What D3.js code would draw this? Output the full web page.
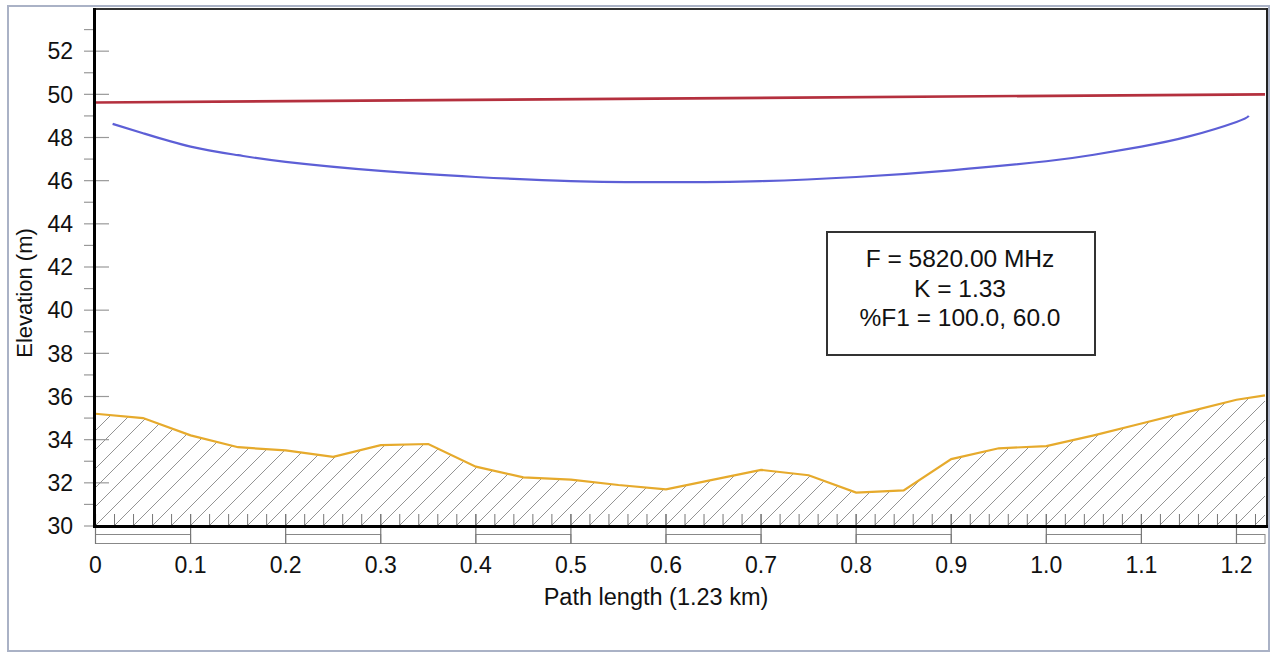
<!DOCTYPE html>
<html>
<head>
<meta charset="utf-8">
<script src="https://cdn.jsdelivr.net/npm/d3@7"></script>
<style>
  body { margin: 0; background: #fff; }
  svg { display: block; font-family: "Liberation Sans", Arial, sans-serif; }
  .tick-label { font-size: 23px; fill: #111; }
  .axis-title { font-size: 23.5px; fill: #111; }
  .info { font-size: 24.5px; fill: #111; }
</style>
</head>
<body>
<div id="chart"></div>
<script>
// path profile data (km, m)
var terrainX = [0, 0.05, 0.1, 0.15, 0.2, 0.25, 0.3, 0.35, 0.4, 0.45, 0.5, 0.55, 0.6, 0.65, 0.7, 0.75, 0.8, 0.85, 0.9, 0.95, 1.0, 1.05, 1.1, 1.15, 1.2, 1.23];
var terrainElev = [35.2, 35.0, 34.2, 33.65, 33.5, 33.2, 33.75, 33.8, 32.75, 32.25, 32.15, 31.9, 31.7, 32.15, 32.6, 32.35, 31.55, 31.65, 33.1, 33.6, 33.7, 34.2, 34.75, 35.3, 35.85, 36.05];

// line of sight
var losX = [0, 1.23];
var losElev = [49.62, 50.0];

// fresnel clearance curve
var fresX = [0.018, 0.05, 0.1, 0.15, 0.2, 0.3, 0.4, 0.5, 0.6, 0.7, 0.8, 0.9, 1.0, 1.05, 1.1, 1.15, 1.2, 1.213];
var fresElev = [48.63, 48.2, 47.58, 47.18, 46.87, 46.45, 46.17, 45.98, 45.93, 45.98, 46.17, 46.48, 46.9, 47.2, 47.58, 48.05, 48.72, 49.0];

var xTickValues = [0, 0.1, 0.2, 0.3, 0.4, 0.5, 0.6, 0.7, 0.8, 0.9, 1.0, 1.1, 1.2];
var xTickLabels = ["0", "0.1", "0.2", "0.3", "0.4", "0.5", "0.6", "0.7", "0.8", "0.9", "1.0", "1.1", "1.2"];
var yTickValues = [30, 32, 34, 36, 38, 40, 42, 44, 46, 48, 50, 52];
var yTickLabels = ["30", "32", "34", "36", "38", "40", "42", "44", "46", "48", "50", "52"];

var infoLines = ["F = 5820.00 MHz", "K = 1.33", "%F1 = 100.0, 60.0"];
var xTitle = "Path length (1.23 km)";
var yTitle = "Elevation (m)";

var svgWidth = 1272;
var svgHeight = 654;

var svg = d3.select("#chart")
  .append("svg")
  .attr("width", svgWidth)
  .attr("height", svgHeight);

var x = d3.scaleLinear().domain([0, 1.23]).range([95.5, 1265]);
var y = d3.scaleLinear().domain([30, 54]).range([526, 8]);

// outer frame
svg.append("rect")
  .attr("x", 8).attr("y", 6)
  .attr("width", 1261).attr("height", 645)
  .attr("fill", "none")
  .attr("stroke", "#aab2c6")
  .attr("stroke-width", 2);

// hatch pattern for ground
var defs = svg.append("defs");
var pat = defs.append("pattern")
  .attr("id", "hatch")
  .attr("patternUnits", "userSpaceOnUse")
  .attr("x", 95).attr("y", 526)
  .attr("width", 19).attr("height", 19);
pat.append("path")
  .attr("d", "M-2,2 L2,-2 M0,19 L19,0 M17,21 L21,17")
  .attr("stroke", "#888")
  .attr("stroke-width", 0.9);

var terrain = terrainX.map((d, i) => ({x: d, v: terrainElev[i]}));

var area = d3.area()
  .x(d => x(d.x))
  .y0(y(30))
  .y1(d => y(d.v));

svg.append("path")
  .datum(terrain)
  .attr("d", area)
  .attr("fill", "url(#hatch)");

// small up ticks along bottom every 0.02
var minorX = d3.range(0, 62).map(i => i * 0.02).filter(d => d < 1.23);
svg.append("g").selectAll("line")
  .data(minorX)
  .enter()
  .append("line")
  .attr("x1", d => x(d)).attr("x2", d => x(d))
  .attr("y1", 514).attr("y2", 526)
  .attr("stroke", "#777")
  .attr("stroke-width", 1);

// terrain line
svg.append("path")
  .datum(terrain)
  .attr("d", d3.line().x(d => x(d.x)).y(d => y(d.v)))
  .attr("fill", "none")
  .attr("stroke", "#e6aa2c")
  .attr("stroke-width", 2.2);

// line of sight
svg.append("path")
  .datum(losX.map((d, i) => ({x: d, v: losElev[i]})))
  .attr("d", d3.line().x(d => x(d.x)).y(d => y(d.v)))
  .attr("fill", "none")
  .attr("stroke", "#b4303e")
  .attr("stroke-width", 2.6);

// fresnel curve
svg.append("path")
  .datum(fresX.map((d, i) => ({x: d, v: fresElev[i]})))
  .attr("d", d3.line().curve(d3.curveNatural).x(d => x(d.x)).y(d => y(d.v)))
  .attr("fill", "none")
  .attr("stroke", "#5d5fd6")
  .attr("stroke-width", 2.2);

// y ticks
var yMinor = yTickValues.map(d => d + 1);
svg.append("g").selectAll("line")
  .data(yMinor)
  .enter()
  .append("line")
  .attr("x1", 84).attr("x2", 94)
  .attr("y1", d => y(d)).attr("y2", d => y(d))
  .attr("stroke", "#999")
  .attr("stroke-width", 1.2);

svg.append("g").selectAll("line")
  .data(yTickValues)
  .enter()
  .append("line")
  .attr("x1", 84).attr("x2", 109)
  .attr("y1", d => y(d)).attr("y2", d => y(d))
  .attr("stroke", "#999")
  .attr("stroke-width", 1.2);

svg.append("g").selectAll("text")
  .data(yTickValues)
  .enter()
  .append("text")
  .attr("class", "tick-label")
  .attr("x", 73)
  .attr("y", d => y(d))
  .attr("dy", "0.36em")
  .attr("text-anchor", "end")
  .text((d, i) => yTickLabels[i]);

// scale bar under x axis
var barStarts = xTickValues.filter((d, i) => i % 2 === 0);
svg.append("g").selectAll("rect")
  .data(barStarts)
  .enter()
  .append("rect")
  .attr("x", d => x(d))
  .attr("y", 534.5)
  .attr("width", d => x(Math.min(d + 0.1, 1.23)) - x(d))
  .attr("height", 9)
  .attr("fill", "none")
  .attr("stroke", "#888")
  .attr("stroke-width", 1);

svg.append("line")
  .attr("x1", x(0)).attr("x2", x(1.23))
  .attr("y1", 543.5).attr("y2", 543.5)
  .attr("stroke", "#888")
  .attr("stroke-width", 1);

svg.append("g").selectAll("line")
  .data(xTickValues)
  .enter()
  .append("line")
  .attr("x1", d => x(d)).attr("x2", d => x(d))
  .attr("y1", 514).attr("y2", 544)
  .attr("stroke", "#777")
  .attr("stroke-width", 1.2);

svg.append("g").selectAll("text")
  .data(xTickValues)
  .enter()
  .append("text")
  .attr("class", "tick-label")
  .attr("x", d => x(d))
  .attr("y", 573)
  .attr("text-anchor", "middle")
  .text((d, i) => xTickLabels[i]);

// plot frame
svg.append("line")
  .attr("x1", 95).attr("x2", 1267)
  .attr("y1", 9).attr("y2", 9)
  .attr("stroke", "#333").attr("stroke-width", 2);
svg.append("line")
  .attr("x1", 1267).attr("x2", 1267)
  .attr("y1", 8).attr("y2", 527)
  .attr("stroke", "#222").attr("stroke-width", 2);
svg.append("line")
  .attr("x1", 94.5).attr("x2", 94.5)
  .attr("y1", 8).attr("y2", 527.5)
  .attr("stroke", "#000").attr("stroke-width", 3);
svg.append("line")
  .attr("x1", 93).attr("x2", 1268)
  .attr("y1", 526.5).attr("y2", 526.5)
  .attr("stroke", "#000").attr("stroke-width", 3);

// axis titles
svg.append("text")
  .attr("class", "axis-title")
  .attr("x", 656)
  .attr("y", 605)
  .attr("text-anchor", "middle")
  .text(xTitle);

svg.append("text")
  .attr("class", "axis-title")
  .attr("transform", "translate(32, 293) rotate(-90)")
  .attr("text-anchor", "middle")
  .style("font-size", "22px")
  .text(yTitle);

// info box
svg.append("rect")
  .attr("x", 827).attr("y", 232)
  .attr("width", 268).attr("height", 123)
  .attr("fill", "#fff")
  .attr("stroke", "#333")
  .attr("stroke-width", 2);

svg.append("g").selectAll("text")
  .data(infoLines)
  .enter()
  .append("text")
  .attr("class", "info")
  .attr("x", 960)
  .attr("y", (d, i) => 267 + i * 29.5)
  .attr("text-anchor", "middle")
  .text(d => d);
</script>
</body>
</html>
